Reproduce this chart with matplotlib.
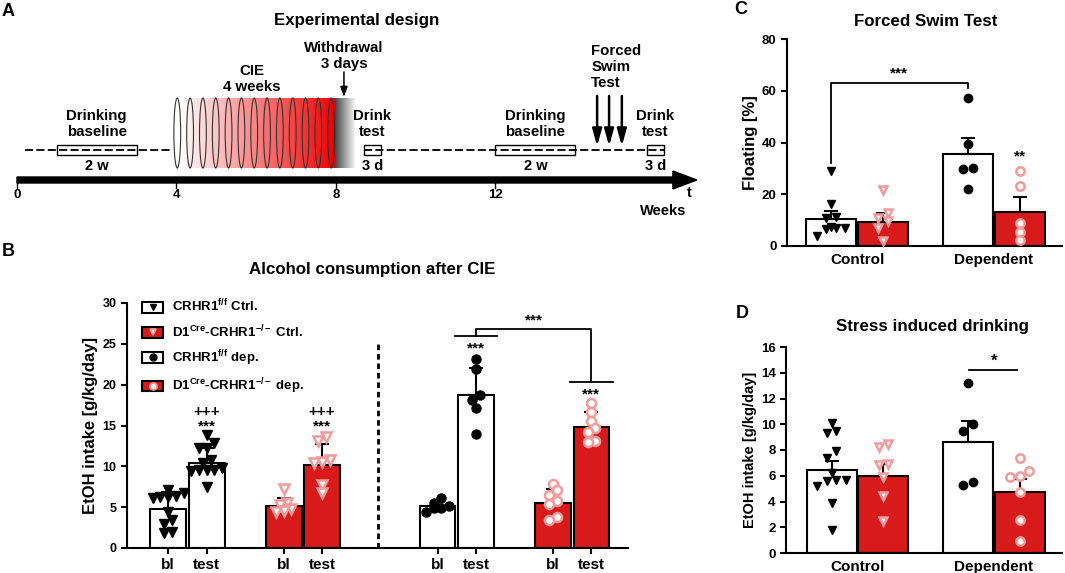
import numpy as np
import matplotlib
matplotlib.use("Agg")
import matplotlib.pyplot as plt
from matplotlib.patches import Rectangle, Ellipse, Patch
from matplotlib.lines import Line2D
from matplotlib.colors import LinearSegmentedColormap

plt.rcParams['font.family'] = ['Liberation Sans', 'DejaVu Sans']
plt.rcParams['font.weight'] = 'bold'
plt.rcParams['axes.labelweight'] = 'bold'
plt.rcParams['mathtext.fontset'] = 'custom'
plt.rcParams['mathtext.rm'] = 'Liberation Sans:bold'
plt.rcParams['mathtext.bf'] = 'Liberation Sans:bold'
plt.rcParams['mathtext.it'] = 'Liberation Sans:bold'

RED = '#d81a1a'
PINK = '#f59a9a'

# ---- A : timeline (weeks) ----
week_ticks = [0, 4, 8, 12]
baseline_blocks = [(1, 3), (12, 14)]
drink_tests = [8.7, 15.8]
test_len = 3 / 7
cie_span = (4, 8)
n_cycles = 13
withdrawal_week = 8.2
fst_weeks = [14.55, 14.85, 15.17]

# ---- B : alcohol consumption after CIE ----
b_ticklabels = ['bl', 'test'] * 4
b_means = [4.8, 10.4, 5.1, 10.2, 5.1, 18.7, 5.55, 14.85]
b_err = [2.0, 1.9, 1.0, 2.5, 0.6, 3.4, 1.7, 1.85]
b_points = [
    [7.1, 6.7, 6.4, 6.3, 6.2, 6.1, 4.4, 3.4, 3.0, 2.0, 1.8],
    [13.8, 12.8, 12.3, 12.2, 10.8, 10.4, 9.8, 9.6, 9.5, 9.4, 9.6, 7.5],
    [7.2, 5.5, 5.3, 4.8, 4.5, 4.4],
    [13.6, 13.1, 10.8, 10.5, 10.4, 7.7, 6.7],
    [6.15, 5.5, 5.1, 4.9, 4.85, 4.45],
    [23.1, 21.9, 18.7, 18.1, 17.2, 14.0],
    [7.8, 7.1, 6.5, 5.7, 5.4, 3.8, 3.4],
    [17.7, 16.6, 15.5, 14.65, 14.2, 13.1, 13.0],
]
b_groups = [0, 0, 1, 1, 2, 2, 3, 3]

# ---- C : forced swim test ----
c_means = [10.5, 9.4, 35.4, 13.2]
c_err = [3.0, 3.2, 6.4, 5.6]
c_points = [
    [29.1, 16.2, 11.3, 10.7, 7.5, 6.8, 6.8, 6.4, 4.0],
    [21.6, 12.6, 10.7, 9.8, 7.1, 2.1],
    [57.3, 39.3, 30.2, 29.7, 22.0],
    [29.1, 23.2, 9.0, 5.3, 2.3],
]

# ---- D : stress induced drinking ----
d_means = [6.45, 6.0, 8.65, 4.76]
d_err = [0.72, 0.9, 1.6, 0.95]
d_points = [
    [10.1, 9.5, 9.3, 7.9, 7.4, 6.2, 5.7, 5.7, 5.6, 5.2, 3.9, 1.8],
    [8.5, 8.2, 6.9, 6.8, 5.9, 4.4, 2.5],
    [13.2, 10.0, 9.5, 5.5, 5.3],
    [7.4, 6.4, 6.0, 5.9, 4.7, 2.6, 0.95],
]
cd_categories = ['Control', 'Dependent']

group_names = [r'CRHR1$^{f/f}$ Ctrl.', r'D1$^{Cre}$-CRHR1$^{-/-}$ Ctrl.',
               r'CRHR1$^{f/f}$ dep.', r'D1$^{Cre}$-CRHR1$^{-/-}$ dep.']
styles = [
    dict(bar='white', marker='v', face='black', edge='black'),
    dict(bar=RED, marker='v', face='white', edge=PINK),
    dict(bar='white', marker='o', face='black', edge='black'),
    dict(bar=RED, marker='o', face='white', edge=PINK),
]

W, H = 1065, 573
fig = plt.figure(figsize=(W / 100, H / 100), dpi=100)


def px_axes(l, t, r, b):
    return fig.add_axes([l / W, 1 - b / H, (r - l) / W, (b - t) / H])


def ftext(x, y, s, **kw):
    fig.text(x / W, 1 - y / H, s, ha=kw.pop('ha', 'center'), va=kw.pop('va', 'center'), **kw)


def swarm(vals, step, tol):
    vals = np.asarray(vals, float)
    offs = np.zeros(len(vals))
    rows = []
    for i in np.argsort(vals):
        if rows and vals[i] - vals[rows[-1][0]] < tol:
            rows[-1].append(i)
        else:
            rows.append([i])
    for row in rows:
        n = len(row)
        for k, i in enumerate(row):
            offs[i] = (k - (n - 1) / 2) * step
    return offs


def style_axes(ax, tsize):
    for s in ['top', 'right']:
        ax.spines[s].set_visible(False)
    for s in ['left', 'bottom']:
        ax.spines[s].set_linewidth(1.5)
    ax.tick_params(width=1.5, length=4, labelsize=tsize)


def draw_bars(ax, xs, means, errs, points, sty, width, step, tol, ms, cap):
    for x, m, e, pts, st in zip(xs, means, errs, points, sty):
        ax.bar(x, m, width, color=st['bar'], edgecolor='black', linewidth=1.5, zorder=2)
        ax.errorbar(x, m, yerr=[[0], [e]], fmt='none', ecolor='black',
                    elinewidth=1.5, capsize=cap, capthick=1.5, zorder=3)
        offs = swarm(pts, step, tol)
        mew = 1.8 if st['face'] == 'white' else 1.0
        ax.plot(x + offs, pts, ls='none', marker=st['marker'], ms=ms,
                mfc=st['face'], mec=st['edge'], mew=mew, zorder=4, clip_on=False)


# ================= A =================
axA = px_axes(0, 0, 700, 230)
axA.set_xlim(-0.426, 17.13)
axA.set_ylim(230, 0)
axA.axis('off')

y_line = 150
# dashed drinking line
axA.plot([0.2, 3.85], [y_line, y_line], color='black', lw=1.3, ls=(0, (4.5, 1.8)))
axA.plot([drink_tests[0], drink_tests[1] + test_len], [y_line, y_line],
         color='black', lw=1.3, ls=(0, (4.5, 1.8)))
for a, b in baseline_blocks:
    axA.add_patch(Rectangle((a, y_line - 5), b - a, 10, fill=False, ec='black', lw=1))
    axA.text((a + b) / 2, 124, 'Drinking\nbaseline', ha='center', va='center',
             size=10.8, linespacing=1.1)
    axA.text((a + b) / 2, 166, '2 w', ha='center', va='center', size=10.5)
for t0 in drink_tests:
    axA.add_patch(Rectangle((t0, y_line - 5), test_len, 10, fill=False, ec='black', lw=1))
    axA.text(t0 + test_len / 2, 124, 'Drink\ntest', ha='center', va='center',
             size=10.8, linespacing=1.1)
    axA.text(t0 + test_len / 2, 166, '3 d', ha='center', va='center', size=10.5)

# CIE vapour cycles with gradient
cmap_red = LinearSegmentedColormap.from_list('wr', ['white', '#ee0000'])
cmap_gray = LinearSegmentedColormap.from_list('gw', ['#505050', 'white'])
grad = np.linspace(0, 1, 256)[None, :]
axA.imshow(grad, cmap=cmap_red, extent=(cie_span[0] + 0.1, cie_span[1], 168, 98),
           aspect='auto', zorder=1)
axA.imshow(grad, cmap=cmap_gray, extent=(cie_span[1], cie_span[1] + 0.5, 168, 98),
           aspect='auto', zorder=1)
for cx in np.linspace(cie_span[0] + 0.02, cie_span[1] - 0.12, n_cycles):
    axA.add_patch(Ellipse((cx, 133), 0.17, 70, fill=False, ec='#333333', lw=0.8, zorder=2))
axA.text(sum(cie_span) / 2 - 0.1, 79, 'CIE\n4 weeks', ha='center', va='center',
         size=10.8, linespacing=1.1)
axA.annotate('', xy=(withdrawal_week, 97), xytext=(withdrawal_week, 72),
             arrowprops=dict(arrowstyle='-|>,head_length=0.5,head_width=0.18',
                             mutation_scale=12, lw=1.1, color='black',
                             shrinkA=0, shrinkB=0))
axA.text(withdrawal_week, 56, 'Withdrawal\n3 days', ha='center', va='center',
         size=10.8, linespacing=1.1)

# forced swim test arrows
for w in fst_weeks:
    axA.annotate('', xy=(w, 146), xytext=(w, 96),
                 arrowprops=dict(arrowstyle='-|>,head_length=0.5,head_width=0.14',
                                 mutation_scale=20, lw=1.8, color='black',
                                 shrinkA=0, shrinkB=0))
axA.text(fst_weeks[0] - 0.15, 67, 'Forced\nSwim\nTest', ha='left', va='center',
         size=10.8, linespacing=1.15)

# time axis
axA.arrow(0, 180, 17.05, 0, width=6, head_width=18, head_length=0.6,
          length_includes_head=True, color='black')
for w in week_ticks:
    axA.plot([w, w], [182, 188], color='black', lw=1)
    axA.text(w, 195, str(w), ha='center', va='center', size=9.5)
axA.text(16.85, 193, 't', ha='center', va='center', size=10.5)
axA.text(16.2, 211, 'Weeks', ha='center', va='center', size=10.5)
ftext(357, 20, 'Experimental design', size=12.2)

# ================= B =================
axB = px_axes(127, 303, 628, 548)
xb = np.array([0, 1, 3, 4, 7, 8, 10, 11])
draw_bars(axB, xb, b_means, b_err, b_points, [styles[g] for g in b_groups],
          0.93, 0.2, 0.75, 6.5, 5)
axB.set_xlim(-1.07, 11.95)
axB.set_ylim(0, 30)
axB.set_yticks(np.arange(0, 31, 5))
axB.set_xticks(xb)
axB.set_xticklabels(b_ticklabels)
style_axes(axB, 9)
axB.tick_params(axis='x', labelsize=11)
axB.set_ylabel('EtOH intake [g/kg/day]', size=12, labelpad=3)
axB.plot([5.45, 5.45], [0, 25.1], color='black', lw=2, ls=(0, (2, 1.4)))

for i in [1, 3]:
    axB.text(xb[i], 16.7, '+++', ha='center', va='center', size=11)
    axB.text(xb[i], 14.85, '***', ha='center', va='center', size=11)
for i, ly in [(5, 25.9), (7, 20.3)]:
    axB.plot([xb[i] - 0.55, xb[i] + 0.55], [ly, ly], color='black', lw=1.3)
    axB.text(xb[i], ly - 1.5, '***', ha='center', va='center', size=11)
axB.plot([xb[5], xb[5], xb[7], xb[7]], [25.9, 26.85, 26.85, 20.3], color='black', lw=1.3)
axB.text((xb[5] + xb[7]) / 2, 27.8, '***', ha='center', va='center', size=11)

handles = [(Patch(fc=s['bar'], ec='black', lw=1.5),
            Line2D([], [], ls='none', marker=s['marker'], ms=5, mfc=s['face'],
                   mec=s['edge'], mew=1.2 if s['face'] == 'white' else 1))
           for s in styles]
axB.legend(handles, group_names, loc='upper left', bbox_to_anchor=(0.03, 1.02),
           frameon=False, fontsize=9.5, handlelength=1.6, handleheight=0.9,
           handletextpad=0.7, labelspacing=0.65, borderaxespad=0, borderpad=0)
ftext(372, 270, 'Alcohol consumption after CIE', size=12.2)

# ================= C =================
xcd = np.array([-0.19, 0.19, 0.81, 1.19])
axC = px_axes(787, 39, 1062, 246)
draw_bars(axC, xcd, c_means, c_err, c_points, styles, 0.366, 0.07, 3.0, 6, 5)
axC.set_xlim(-0.513, 1.5)
axC.set_ylim(0, 80)
axC.set_yticks(np.arange(0, 81, 20))
axC.set_xticks([0, 1])
axC.set_xticklabels(cd_categories)
style_axes(axC, 9.5)
axC.tick_params(axis='x', length=0, labelsize=11, pad=5)
axC.set_ylabel('Floating [%]', size=12, labelpad=3)
axC.plot([xcd[0], xcd[0], xcd[2], xcd[2]], [32, 63, 63, 60.9], color='black', lw=1.3)
axC.text((xcd[0] + xcd[2]) / 2, 66.5, '***', ha='center', va='center', size=11)
axC.text(xcd[3], 34.5, '**', ha='center', va='center', size=11)
ftext(926, 22, 'Forced Swim Test', size=12.2)

# ================= D =================
axD = px_axes(786, 347, 1062, 553)
draw_bars(axD, xcd, d_means, d_err, d_points, styles, 0.366, 0.07, 0.6, 6, 5)
axD.set_xlim(-0.524, 1.5)
axD.set_ylim(0, 16)
axD.set_yticks(np.arange(0, 17, 2))
axD.set_xticks([0, 1])
axD.set_xticklabels(cd_categories)
style_axes(axD, 9.5)
axD.tick_params(axis='x', length=0, labelsize=11, pad=5)
axD.set_ylabel('EtOH intake [g/kg/day]', size=10.5, labelpad=3)
axD.plot([xcd[2] + 0.01, xcd[3] - 0.02], [14.2, 14.2], color='black', lw=1.3)
axD.text((xcd[2] + xcd[3]) / 2, 14.9, '*', ha='center', va='center', size=12)
ftext(932, 327, 'Stress induced drinking', size=12.2)

# panel letters
for lab, x, y in [('A', 8, 12), ('B', 8, 252), ('C', 741, 10), ('D', 742, 313)]:
    ftext(x, y, lab, size=13)

fig.savefig('out.png', dpi=100)
